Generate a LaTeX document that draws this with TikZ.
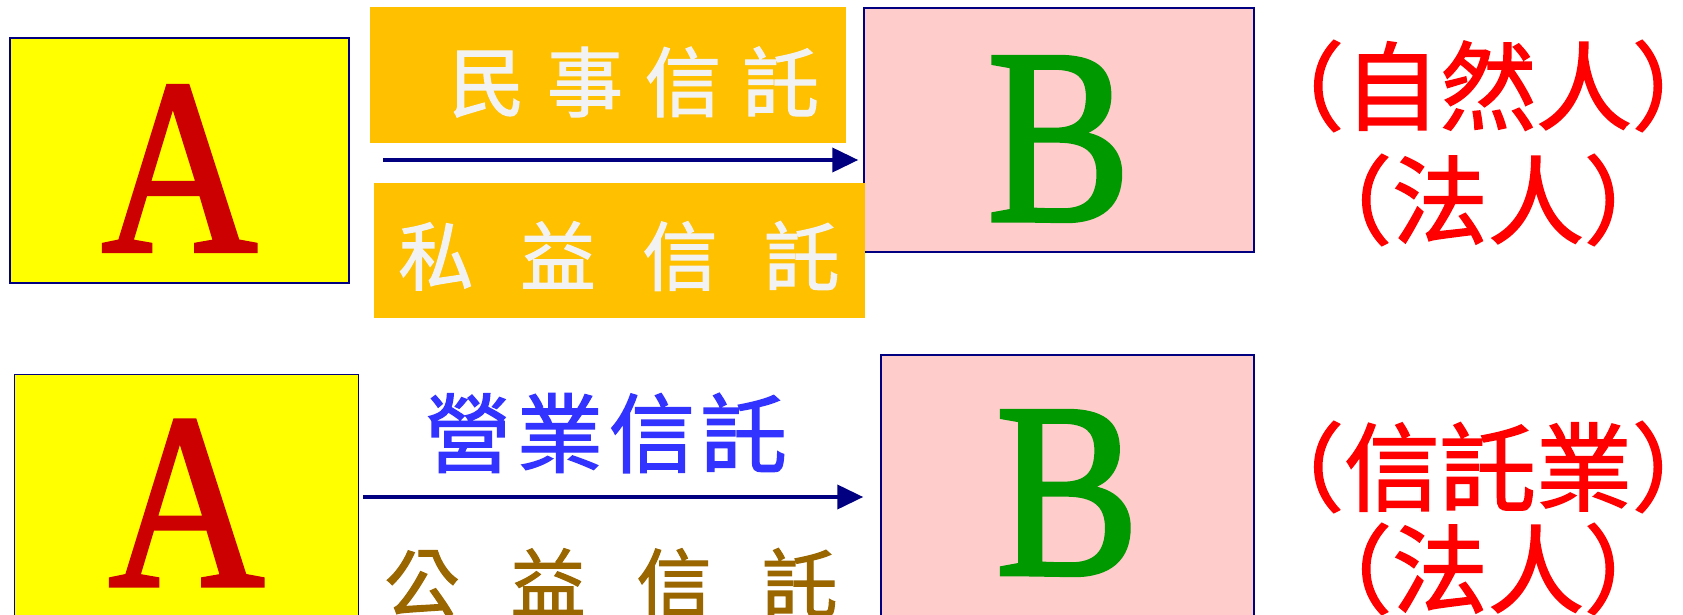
\documentclass[tikz,border=0pt]{standalone}
\usepackage{fontspec}
\setmainfont{Liberation Serif}
\newfontfamily\letterfont[FakeStretch=0.86,FakeBold=1.6]{Liberation Serif}
\newfontfamily\cjk[FakeBold=1.6]{Noto Sans CJK TC}
\usetikzlibrary{positioning,arrows.meta,calc}

\definecolor{navyline}{HTML}{000080}
\definecolor{lemon}{HTML}{FFFF00}
\definecolor{blush}{HTML}{FFCCCC}
\definecolor{amber}{HTML}{FFC000}
\definecolor{crimson}{HTML}{CC0000}
\definecolor{leaf}{HTML}{009900}
\definecolor{snow}{HTML}{F2F2F2}
\definecolor{royal}{HTML}{3333FF}
\definecolor{bronze}{HTML}{996600}
\definecolor{scarlet}{HTML}{FF0000}

\begin{document}
\begin{tikzpicture}[
  x=1pt, y=-1pt,
  settlor/.style  = {draw=navyline, line width=1.5pt, fill=lemon, inner sep=0pt,
                     text=crimson, font=\letterfont\fontsize{250}{250}\selectfont},
  trustee/.style  = {draw=navyline, line width=1.5pt, fill=blush, inner sep=0pt,
                     text=leaf, font=\letterfont\fontsize{250}{250}\selectfont},
  kindbox/.style  = {fill=amber, inner sep=0pt},
  kind/.style     = {inner sep=0pt, font=\cjk\fontsize{#1}{#1}\selectfont},
  role/.style     = {inner sep=0pt, text=scarlet, font=\cjk\fontsize{96}{96}\selectfont},
  flow/.style     = {-{Triangle[length=26pt,width=24pt]}, line width=4pt, draw=navyline},
]
\useasboundingbox (0,0) rectangle (1683,615);
\clip (0,0) rectangle (1683,615);

% ===== upper row =====
\node[settlor, minimum width=339pt, minimum height=245pt, text height=181pt, text depth=0pt]
     (A1) at (179.5,160.5) {A};
\node[trustee, minimum width=390pt, minimum height=244pt, text height=181pt, text depth=0pt]
     (B1) at (1059,130) {B};
\node[kindbox, minimum width=476pt, minimum height=135pt] (civil) at (608,75) {};
\node[kindbox, minimum width=491pt, minimum height=135pt] (private) at (619,250) {};
\node[kind=76, text=snow] (civilT) at (634,82) {民\kern22pt 事\kern22pt 信\kern22pt 託};
\node[kind=75, text=snow] (privateT) at (619,256) {私\kern47pt 益\kern47pt 信\kern47pt 託};
\coordinate (s1) at (383,160);
\draw[flow, shorten >=5pt] (s1) -- (s1 -| B1.west);
\node[role] (natural) at (1488,86) {（自然人）};
\node[role] (legal1) at (1488,200) {（法人）};

% ===== lower row =====
\node[settlor, minimum width=344pt, minimum height=257pt] (A2) at (186.5,503) {A};
\node[trustee, minimum width=373pt, minimum height=276pt] (B2) at (1067.5,493) {B};
\node[kind=86, text=royal] (businessT) at (606,433) {營\kern6pt 業\kern6pt 信\kern6pt 託};
\node[kind=75, text=bronze] (publicT) at (611,583) {公\kern51pt 益\kern51pt 信\kern51pt 託};
\coordinate (s2) at (363,497);
\draw[flow, shorten >=17pt] (s2) -- (s2 -| B2.west);
\node[role] (trustco) at (1488,467) {（信託業）};
\node[role] (legal2) at (1488,569) {（法人）};

\end{tikzpicture}
\end{document}
